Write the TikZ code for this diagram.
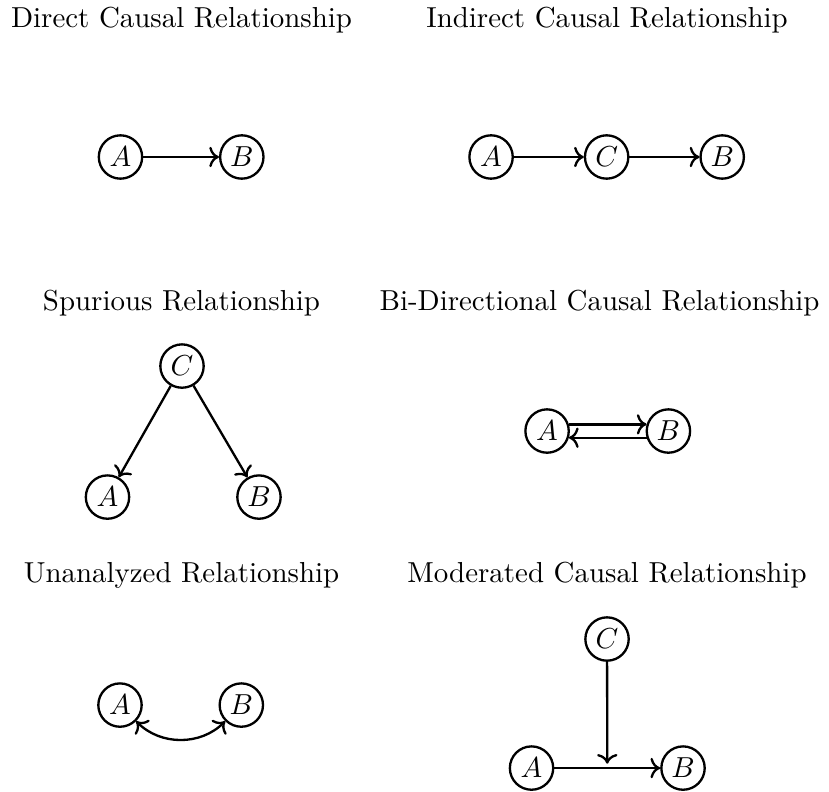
\documentclass[tikz,border=0pt]{standalone}
\usetikzlibrary{arrows.meta, positioning, calc}

\begin{document}
\begin{tikzpicture}[
    node distance=0.92cm,
    var/.style={circle, draw, thick, minimum size=15pt, inner sep=1pt},
    heading/.style={align=center},
    arrow/.style={-{To}, thick}
]

\useasboundingbox (0,0) rectangle (10.08,-9.62);

% Direct
\node[heading] (t1) at (2.207,-0.243) {Direct Causal Relationship};
\node[var] (a1) at (1.465,-1.909) {$A$};
\node[var, right=of a1] (b1) {$B$};

% Indirect
\node[heading] (t2) at (7.381,-0.243) {Indirect Causal Relationship};
\node[var] (a2) at (5.971,-1.909) {$A$};
\node[var, right=0.85cm of a2] (c2) {$C$};
\node[var, right=0.85cm of c2] (b2) {$B$};

% Spurious
\node[heading] (t3) at (2.207,-3.685) {Spurious Relationship};
\node[var] (c3) at (2.213,-4.451) {$C$};
\node[var] (a3) at (1.307,-6.044) {$A$};
\node[var] (b3) at (3.149,-6.044) {$B$};

% Bi-directional
\node[heading] (t4) at (7.290,-3.685) {Bi-Directional Causal Relationship};
\node[var] (a4) at (6.652,-5.241) {$A$};
\node[var, right=of a4] (b4) {$B$};

% Unanalyzed
\node[heading] (t5) at (2.207,-6.992) {Unanalyzed Relationship};
\node[var] (a5) at (1.459,-8.573) {$A$};
\node[var, right=of a5] (b5) {$B$};

% Moderated
\node[heading] (t6) at (7.381,-6.992) {Moderated Causal Relationship};
\node[var] (c6) at (7.381,-7.770) {$C$};
\node[var] (a6) at (6.463,-9.339) {$A$};
\node[var] (b6) at (8.305,-9.339) {$B$};
\coordinate[above=1.5pt] (m6) at ($(a6)!0.5!(b6)$);

% Arrows
\draw[arrow] (a1) -- (b1);
\draw[arrow] (a2) -- (c2);
\draw[arrow] (c2) -- (b2);
\draw[arrow] (c3) -- (a3);
\draw[arrow] (c3) -- (b3);
\draw[arrow] (a4.17) -- (b4.163);
\draw[arrow] (b4.-163) -- (a4.-17);
\draw[{To}-{To}, thick] (a5) to[out=-45, in=-135] (b5);
\draw[arrow] (c6) -- (m6);
\draw[arrow] (a6) -- (b6);

\end{tikzpicture}
\end{document}
